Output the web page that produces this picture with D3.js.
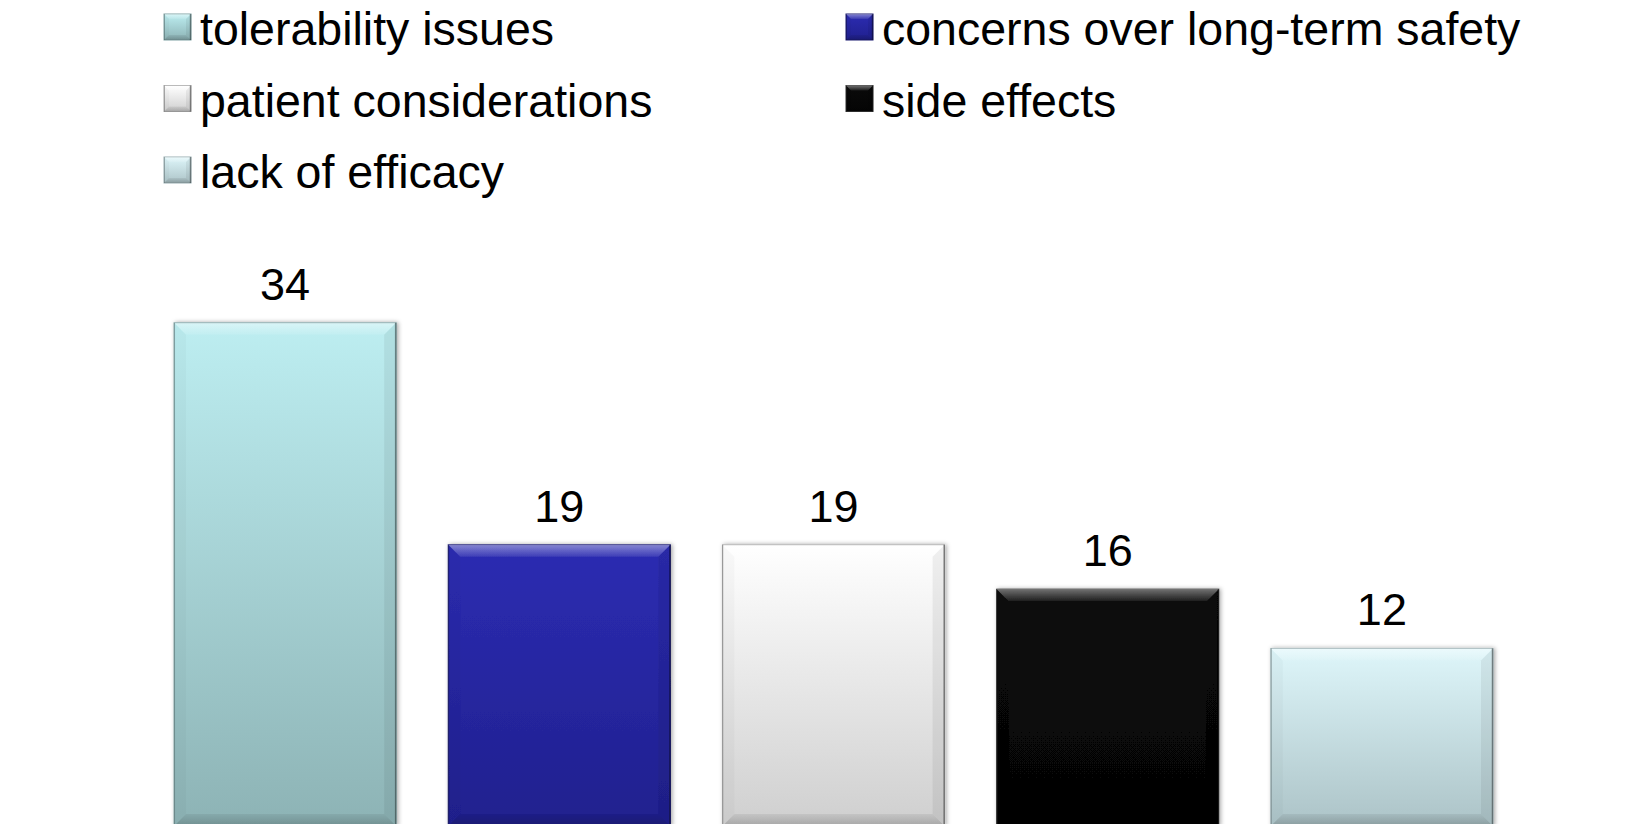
<!DOCTYPE html>
<html>
<head>
<meta charset="utf-8">
<script src="https://cdn.jsdelivr.net/npm/d3@7"></script>
<style>
  html, body { margin: 0; padding: 0; background: #ffffff; }
  svg { display: block; }
  text { font-family: "Liberation Sans", Arial, Helvetica, sans-serif; fill: #000; }
</style>
</head>
<body>
<svg id="chart" width="1643" height="824"></svg>
<script>
// Reasons given, with the share of respondents citing each
const categories = [
  "tolerability issues",
  "concerns over long-term safety",
  "patient considerations",
  "side effects",
  "lack of efficacy"
];
const values = [34, 19, 19, 16, 12];

// Bar fills: top and bottom stops of each vertical gradient
const fillTop    = ["#bdeef1", "#2c2cb2", "#ffffff", "#0a0a0a", "#def6fa"];
const fillBottom = ["#8db3b5", "#20208e", "#cfcfcf", "#050505", "#acc3c7"];
const edgeColor  = ["#7fa2a4", "#1a1a70", "#a8a8a8", "#333333", "#98aeb2"];

const W = 1643, H = 824;
const svg = d3.select("#chart");
const defs = svg.append("defs");

// soft glow around each bar
const shadow = defs.append("filter").attr("id", "barShadow")
  .attr("x", "-10%").attr("y", "-10%").attr("width", "120%").attr("height", "120%");
shadow.append("feDropShadow")
  .attr("dx", 1.5).attr("dy", 0).attr("stdDeviation", 2.2)
  .attr("flood-color", "#000").attr("flood-opacity", 0.35);

categories.forEach((c, i) => {
  const g = defs.append("linearGradient").attr("id", "grad" + i)
    .attr("x1", 0).attr("y1", 0).attr("x2", 0).attr("y2", 1);
  g.append("stop").attr("offset", "0%").attr("stop-color", fillTop[i]);
  g.append("stop").attr("offset", "100%").attr("stop-color", fillBottom[i]);
});

// facet shading gradients
const lit = defs.append("linearGradient").attr("id", "litTop")
  .attr("x1", 0).attr("y1", 0).attr("x2", 0).attr("y2", 1);
lit.append("stop").attr("offset", "0%").attr("stop-color", "#fff").attr("stop-opacity", 0.42);
lit.append("stop").attr("offset", "100%").attr("stop-color", "#fff").attr("stop-opacity", 0.08);
const dark = defs.append("linearGradient").attr("id", "darkBottom")
  .attr("x1", 0).attr("y1", 0).attr("x2", 0).attr("y2", 1);
dark.append("stop").attr("offset", "0%").attr("stop-color", "#000").attr("stop-opacity", 0.06);
dark.append("stop").attr("offset", "100%").attr("stop-color", "#000").attr("stop-opacity", 0.2);

// Scales
const x = d3.scaleBand()
  .domain(categories)
  .range([148, 1519])
  .paddingInner(0.19)
  .paddingOuter(0.095);

const y = d3.scaleLinear()
  .domain([0, 40])
  .range([826, 234]);

// Bevelled box: body with gradient, lit top facet, shaded bottom facet, side facets
function bevelBox(sel, bx, by, bw, bh, b, i) {
  sel.append("rect")
    .attr("x", bx).attr("y", by).attr("width", bw).attr("height", bh)
    .attr("fill", `url(#grad${i})`)
    .attr("stroke", edgeColor[i]).attr("stroke-width", 1);
  const pts = a => a.map(p => p.join(",")).join(" ");
  // top facet
  sel.append("polygon")
    .attr("points", pts([[bx, by], [bx + bw, by], [bx + bw - b, by + b], [bx + b, by + b]]))
    .attr("fill", "url(#litTop)");
  // bottom facet
  sel.append("polygon")
    .attr("points", pts([[bx, by + bh], [bx + bw, by + bh], [bx + bw - b, by + bh - b], [bx + b, by + bh - b]]))
    .attr("fill", "url(#darkBottom)");
  // left facet
  sel.append("polygon")
    .attr("points", pts([[bx, by], [bx + b, by + b], [bx + b, by + bh - b], [bx, by + bh]]))
    .attr("fill", "#000000").attr("fill-opacity", 0.025);
  // right facet
  sel.append("polygon")
    .attr("points", pts([[bx + bw, by], [bx + bw - b, by + b], [bx + bw - b, by + bh - b], [bx + bw, by + bh]]))
    .attr("fill", "#000000").attr("fill-opacity", 0.06);
  // thin edges
  sel.append("line")
    .attr("x1", bx + bw - 0.5).attr("x2", bx + bw - 0.5)
    .attr("y1", by).attr("y2", by + bh)
    .attr("stroke", "#000").attr("stroke-opacity", 0.35).attr("stroke-width", 1.5);
  sel.append("line")
    .attr("x1", bx + 0.5).attr("x2", bx + 0.5)
    .attr("y1", by).attr("y2", by + bh)
    .attr("stroke", "#000").attr("stroke-opacity", 0.18).attr("stroke-width", 1);
}

// Bars
const bars = svg.append("g").attr("class", "bars");
categories.forEach((c, i) => {
  const g = bars.append("g").attr("filter", "url(#barShadow)");
  const top = y(values[i]);
  bevelBox(g, x(c), top, x.bandwidth(), y(0) - top, 12, i);
});

// Value labels
svg.append("g").attr("class", "labels")
  .selectAll("text")
  .data(categories)
  .join("text")
  .attr("x", c => x(c) + x.bandwidth() / 2)
  .attr("y", (c, i) => y(values[i]) - 23)
  .attr("text-anchor", "middle")
  .attr("font-size", 45)
  .text((c, i) => values[i]);

// Legend: two columns, filled row by row
const legendCols = [164, 846];
const legendRowTop = 14, legendRowStep = 71.5, markerSize = 27;
const legend = svg.append("g").attr("class", "legend");
categories.forEach((c, i) => {
  const col = i % 2, row = Math.floor(i / 2);
  const lx = legendCols[col];
  const ly = legendRowTop + row * legendRowStep;
  const g = legend.append("g");
  bevelBox(g, lx, ly, markerSize, 26, 5, i);
  g.append("text")
    .attr("x", lx + markerSize + 9)
    .attr("y", ly + 31)
    .attr("font-size", 46.5)
    .text(c);
});
</script>
</body>
</html>
